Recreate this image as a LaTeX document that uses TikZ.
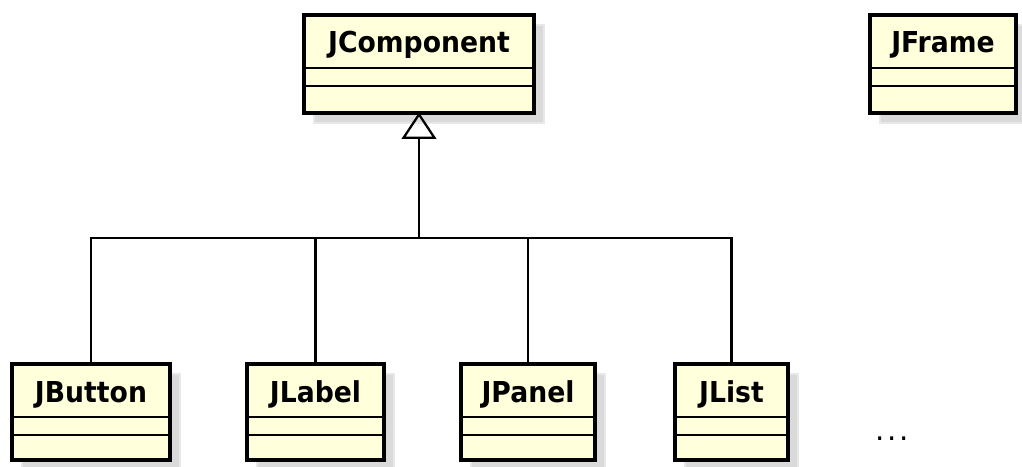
\documentclass[tikz,border=0pt]{standalone}
\usepackage{fontspec}
\setmainfont{DejaVu Sans}
\usetikzlibrary{arrows.meta,fit}

\definecolor{classfill}{RGB}{255,255,219}
\definecolor{shadowfill}{RGB}{218,218,218}
\definecolor{shadowedge}{RGB}{232,232,232}

\tikzset{
  x=0.75pt, y=-0.75pt,
  clsbox/.style={draw=black, fill=classfill, line width=3pt, inner sep=0pt},
  clsshadow/.style={fill=shadowfill, draw=shadowedge, line width=2pt},
  sepline/.style={draw=black, line width=1.6pt},
  clsname/.style={font=\bfseries\fontsize{20pt}{24pt}\selectfont, anchor=base, inner sep=0pt, yscale=1.08},
  conn/.style={draw=black, line width=1.7pt},
  inherit/.style={conn, shorten >=-2pt, -{Triangle[open, length=20pt, width=26pt, line width=1.7pt]}},
}

% class box: name, left, top, right, bottom, label
\newcommand\umlclass[6]{%
  \path[clsshadow] (#2+10,#3+10) rectangle (#4+10,#5+10);
  \node[clsbox, fit={(#2,#3) (#4,#5)}] (#1) {};
  \draw[sepline] (#2,#3+53) -- (#4,#3+53);
  \draw[sepline] (#2,#3+71) -- (#4,#3+71);
  \node[clsname] (#1-name) at ({(#2+#4)/2},#3+38) {#6};
}

\begin{document}
\begin{tikzpicture}
  \useasboundingbox (0,0) rectangle (1022,467);

  \umlclass{jcomponent}{304}{15}{534}{113}{JComponent}
  \umlclass{jframe}{870}{15}{1016}{113}{JFrame}
  \umlclass{jbutton}{12}{364}{170}{460}{JButton}
  \umlclass{jlabel}{247}{364}{384}{460}{JLabel}
  \umlclass{jpanel}{461}{364}{595}{460}{JPanel}
  \umlclass{jlist}{675}{364}{788}{460}{JList}

  \node[font=\fontsize{22pt}{26pt}\selectfont, anchor=base, inner sep=0pt] (more) at (892,440) {.\kern2pt.\kern2pt.};

  % generalization tree
  \coordinate (bus) at (419,238);
  \draw[conn] (jbutton.north) |- (bus);
  \draw[conn] (jlabel.north) |- (bus);
  \draw[conn] (jpanel.north) |- (bus);
  \draw[conn] (jlist.north) |- (bus);
  \draw[inherit] (bus) -- (jcomponent.south);
\end{tikzpicture}
\end{document}
